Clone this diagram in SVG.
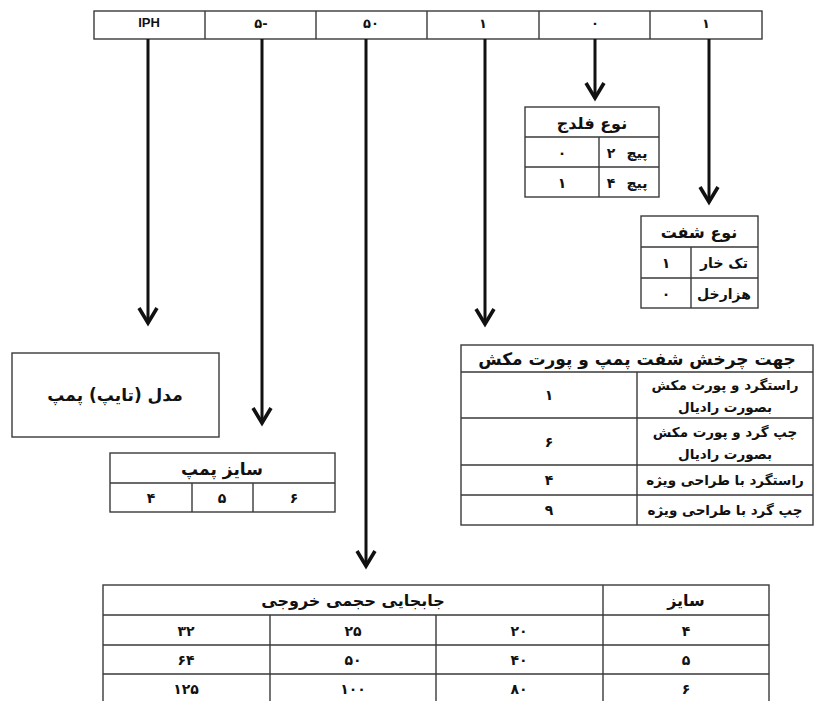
<svg xmlns="http://www.w3.org/2000/svg" width="814" height="701" viewBox="0 0 814 701">
<defs>
<style>
.box{fill:#fff;stroke:#3a3a3a;stroke-width:1.4}
.ln{stroke:#3a3a3a;stroke-width:1.4;fill:none}
.t{font-family:"DejaVu Sans","Noto Sans",sans-serif;font-weight:bold;fill:#111;text-anchor:middle}
.lat{font-family:"Liberation Sans","DejaVu Sans",sans-serif;font-weight:bold;fill:#111;text-anchor:middle}
.arr{stroke:#111;stroke-width:3;fill:none;marker-end:url(#ah)}
</style>
<marker id="ah" markerUnits="userSpaceOnUse" viewBox="-20 -13 24 26" refX="0" refY="0" markerWidth="24" markerHeight="26" orient="auto">
<path d="M-15,-9 L0,0 L-15,9" fill="none" stroke="#111" stroke-width="3.6" stroke-linejoin="miter" stroke-miterlimit="10"/>
</marker>
</defs>
<rect width="814" height="701" fill="#fff"/>

<g id="code-bar">
<rect class="box" x="94" y="11" width="668" height="28"/>
<path class="ln" d="M205,11V39M316,11V39M427,11V39M539,11V39M650,11V39"/>
<text class="lat" x="149" y="27" font-size="13">IPH</text>
<text class="t" x="261" y="28" font-size="13">۵-</text>
<text class="t" x="371" y="28" font-size="13">۵۰</text>
<text class="t" x="483" y="28" font-size="13">۱</text>
<text class="t" x="595" y="28" font-size="13">۰</text>
<text class="t" x="706" y="28" font-size="13">۱</text>
</g>

<g id="connectors">
<line class="arr" x1="148" y1="39" x2="148" y2="323"/>
<line class="arr" x1="262" y1="39" x2="262" y2="423"/>
<line class="arr" x1="366" y1="39" x2="366" y2="566"/>
<line class="arr" x1="485" y1="39" x2="485" y2="324"/>
<line class="arr" x1="595" y1="39" x2="595" y2="98"/>
<line class="arr" x1="709" y1="39" x2="709" y2="202"/>
</g>

<g id="flange-type">
<rect class="box" x="525" y="107" width="134" height="90"/>
<path class="ln" d="M525,137H659M525,167H659M599,137V197"/>
<text class="t" x="592" y="129" font-size="16" direction="rtl">نوع فلدج</text>
<text class="t" x="611" y="158" font-size="14">۲</text>
<text class="t" x="637" y="158" font-size="14" direction="rtl">پیچ</text>
<text class="t" x="562" y="158" font-size="14">۰</text>
<text class="t" x="611" y="188" font-size="14">۴</text>
<text class="t" x="637" y="188" font-size="14" direction="rtl">پیچ</text>
<text class="t" x="562" y="188" font-size="14">۱</text>
</g>

<g id="shaft-type">
<rect class="box" x="641" y="216" width="117" height="92"/>
<path class="ln" d="M641,247H758M641,278H758M691,247V308"/>
<text class="t" x="699" y="238" font-size="16" direction="rtl">نوع شفت</text>
<text class="t" x="724" y="268" font-size="14" direction="rtl">تک خار</text>
<text class="t" x="666" y="268" font-size="14">۱</text>
<text class="t" x="724" y="299" font-size="14" direction="rtl">هزارخل</text>
<text class="t" x="666" y="299" font-size="14">۰</text>
</g>

<g id="pump-model">
<rect class="box" x="12" y="353" width="207" height="84"/>
<text class="t" x="115" y="401" font-size="17" direction="rtl">مدل (تایپ) پمپ</text>
</g>

<g id="pump-size">
<rect class="box" x="110" y="453" width="225" height="59"/>
<path class="ln" d="M110,483H335M192,483V512M253,483V512"/>
<text class="t" x="222" y="475" font-size="17" direction="rtl">سایز پمپ</text>
<text class="t" x="151" y="503" font-size="14">۴</text>
<text class="t" x="222" y="503" font-size="14">۵</text>
<text class="t" x="294" y="503" font-size="14">۶</text>
</g>

<g id="rotation-direction">
<rect class="box" x="461" y="345" width="352" height="180"/>
<path class="ln" d="M461,372H813M461,418H813M461,465H813M461,495H813M637,372V525"/>
<text class="t" x="637" y="365" font-size="17" direction="rtl">جهت چرخش شفت پمپ و پورت مکش</text>
<text class="t" x="725" y="390" font-size="13.5" direction="rtl">راستگرد و پورت مکش</text>
<text class="t" x="725" y="412" font-size="13.5" direction="rtl">بصورت رادیال</text>
<text class="t" x="549" y="400" font-size="14">۱</text>
<text class="t" x="725" y="437" font-size="13.5" direction="rtl">چپ گرد  و پورت مکش</text>
<text class="t" x="725" y="459" font-size="13.5" direction="rtl">بصورت رادیال</text>
<text class="t" x="549" y="447" font-size="14">۶</text>
<text class="t" x="725" y="485" font-size="13.5" direction="rtl">راستگرد با طراحی ویژه</text>
<text class="t" x="549" y="485" font-size="14">۴</text>
<text class="t" x="725" y="515" font-size="13.5" direction="rtl">چپ گرد با طراحی ویژه</text>
<text class="t" x="549" y="515" font-size="14">۹</text>
</g>

<g id="displacement-table">
<rect class="box" x="103" y="585" width="666" height="120"/>
<path class="ln" d="M103,615H769M103,645H769M103,674H769M603,585V705M270,615V705M436,615V705"/>
<text class="t" x="353" y="606" font-size="16" direction="rtl">جابجایی حجمی خروجی</text>
<text class="t" x="686" y="606" font-size="16" direction="rtl">سایز</text>
<text class="t" x="186" y="636" font-size="14">۳۲</text>
<text class="t" x="353" y="636" font-size="14">۲۵</text>
<text class="t" x="519" y="636" font-size="14">۲۰</text>
<text class="t" x="686" y="636" font-size="14">۴</text>
<text class="t" x="186" y="665" font-size="14">۶۴</text>
<text class="t" x="353" y="665" font-size="14">۵۰</text>
<text class="t" x="519" y="665" font-size="14">۴۰</text>
<text class="t" x="686" y="665" font-size="14">۵</text>
<text class="t" x="186" y="694" font-size="14">۱۲۵</text>
<text class="t" x="353" y="694" font-size="14">۱۰۰</text>
<text class="t" x="519" y="694" font-size="14">۸۰</text>
<text class="t" x="686" y="694" font-size="14">۶</text>
</g>
</svg>
